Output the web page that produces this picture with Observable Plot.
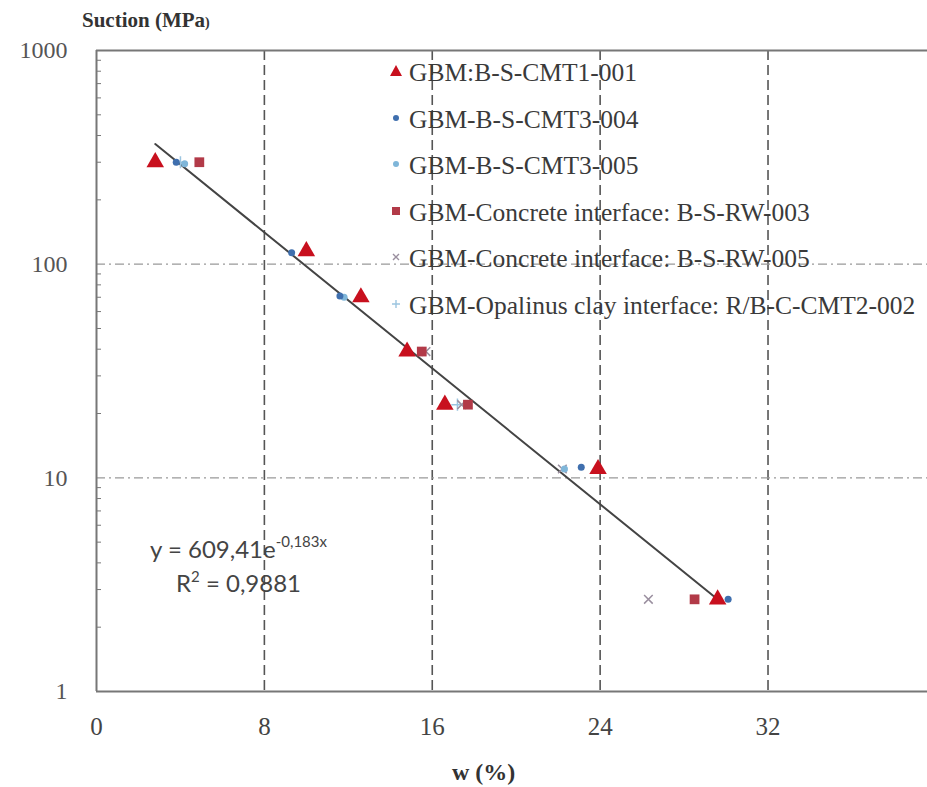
<!DOCTYPE html>
<html>
<head>
<meta charset="utf-8">
<script src="https://cdn.jsdelivr.net/npm/d3@7"></script>
<script src="https://cdn.jsdelivr.net/npm/@observablehq/plot@0.6"></script>
<style>
  body { margin: 0; background: #fff; }
  #wrap { position: relative; width: 927px; height: 787px; }
  .ov { position: absolute; white-space: nowrap; line-height: 1; }
</style>
</head>
<body>
<div id="wrap"></div>
<script>
// ---- data ----
const seriesNames = [
  "GBM:B-S-CMT1-001",
  "GBM-B-S-CMT3-004",
  "GBM-B-S-CMT3-005",
  "GBM-Concrete interface: B-S-RW-003",
  "GBM-Concrete interface: B-S-RW-005",
  "GBM-Opalinus clay interface: R/B-C-CMT2-002"
];
const cmt1_w = [2.8, 10.0, 12.6, 14.8, 16.6, 23.9, 29.6];
const cmt1_s = [300, 115, 70, 39, 22, 11, 2.7];
const cmt3a_w = [3.8, 9.3, 11.6, 23.1, 30.1];
const cmt3a_s = [300, 113, 71, 11.2, 2.7];
const cmt3b_w = [4.2, 11.8, 22.3];
const cmt3b_s = [295, 70, 11];
const rw3_w = [4.9, 15.5, 17.7, 28.5];
const rw3_s = [300, 39, 22, 2.7];
const rw5_w = [15.7, 17.4, 22.2, 26.3];
const rw5_s = [39, 22, 11, 2.7];
const opa_w = [4.0, 17.2];
const opa_s = [300, 22];
const trend_w = [2.8, 29.8];
const trend_s = [365, 2.6];
const xTicks = [0, 8, 16, 24, 32];
const yTicks = [1, 10, 100, 1000];
const vGrid = [8, 16, 24, 32];
const hGrid = [10, 100];
const minorY = [];
for (const d of [1, 10, 100]) for (let k = 2; k <= 9; k++) minorY.push(d * k);

const SERIF = '"Liberation Serif", "Times New Roman", "DejaVu Serif", serif';
const SANS = 'Lato, "Open Sans", "Liberation Sans", sans-serif';

const toRows = (ws, ss) => ws.map((w, i) => ({w, s: ss[i]}));

const chart = Plot.plot({
  width: 927,
  height: 787,
  marginLeft: 96,
  marginTop: 50,
  marginBottom: 96,
  marginRight: 0,
  style: {background: "transparent", fontFamily: SERIF},
  x: {domain: [0, 39.6], label: null},
  y: {type: "log", domain: [1, 1000], label: null},
  marks: [
    Plot.ruleX(vGrid, {stroke: "#555", strokeWidth: 1.6, strokeDasharray: "10,5"}),
    Plot.ruleY(hGrid, {stroke: "#999", strokeWidth: 1.4, strokeDasharray: "9,4,2,4"}),
    Plot.ruleX([0], {stroke: "#777", strokeWidth: 2}),
    Plot.ruleY([1, 1000], {stroke: "#777", strokeWidth: 2}),
    Plot.axisY({ticks: minorY, tickSize: -5, text: null, stroke: "#777", label: null}),
    Plot.axisY({ticks: yTicks, tickFormat: d => String(d), tickSize: 0, tickPadding: 29,
      fontSize: 24, fill: "#555", label: null}),
    Plot.axisX({ticks: xTicks, tickFormat: d => String(d), tickSize: 0, tickPadding: 26,
      fontSize: 25, fill: "#444", label: null}),
    Plot.line(toRows(trend_w, trend_s), {x: "w", y: "s", stroke: "#444", strokeWidth: 2}),
    Plot.dot(toRows(opa_w, opa_s), {x: "w", y: "s", symbol: "plus", r: 4, stroke: "#9cc5e0", strokeWidth: 1.5}),
    Plot.dot(toRows(rw5_w, rw5_s), {x: "w", y: "s", symbol: "times", r: 4, stroke: "#9a8f9f", strokeWidth: 1.5}),
    Plot.dot(toRows(cmt3b_w, cmt3b_s), {x: "w", y: "s", symbol: "circle", r: 3.5, fill: "#7fb6d9"}),
    Plot.dot(toRows(cmt3a_w, cmt3a_s), {x: "w", y: "s", symbol: "circle", r: 3.5, fill: "#3f6fae"}),
    Plot.dot(toRows(rw3_w, rw3_s), {x: "w", y: "s", symbol: "square", r: 5.5, fill: "#b23a48"}),
    Plot.dot(toRows(cmt1_w, cmt1_s), {x: "w", y: "s", symbol: "triangle", r: 6.5, fill: "#c8101e"})
  ]
});

const wrap = document.getElementById("wrap");
chart.style.position = "absolute";
chart.style.left = "0";
chart.style.top = "0";
wrap.appendChild(chart);

function ov(html, left, top, family, extra) {
  const d = document.createElement("div");
  d.className = "ov";
  d.style.left = left + "px";
  d.style.top = top + "px";
  if (family) d.style.fontFamily = family;
  d.innerHTML = html;
  Object.assign(d.style, extra || {});
  wrap.appendChild(d);
  return d;
}

ov("Suction (MPa<span style='font-size:14px'>)</span>", 82, 10, SERIF,
   {fontSize: "21px", fontWeight: "bold", color: "#333"});
ov("w (%)", 452, 760, SERIF, {fontSize: "24px", fontWeight: "bold", color: "#333"});
ov("y = 609,41e<span style='font-size:15px;position:relative;top:-11px'>-0,183x</span>", 150, 537, SANS,
   {fontSize: "24px", color: "#444"});
ov("R<span style='font-size:15px;position:relative;top:-10px'>2</span> = 0,9881", 176, 571, SANS,
   {fontSize: "24px", color: "#444"});

// legend
const legendSym = [
  "<polygon points='7,1 13,12 1,12' fill='#c8101e'/>",
  "<circle cx='7' cy='7' r='3' fill='#3f6fae'/>",
  "<circle cx='7' cy='7' r='3' fill='#7fb6d9'/>",
  "<rect x='3' y='3' width='8' height='8' fill='#b23a48'/>",
  "<path d='M4,4L10,10M10,4L4,10' stroke='#9a8f9f' stroke-width='1.4'/>",
  "<path d='M7,3V11M3,7H11' stroke='#9cc5e0' stroke-width='1.4'/>"
];
seriesNames.forEach((name, i) => {
  const top = 60 + i * 46.6;
  ov("<svg width='14' height='14'>" + legendSym[i] + "</svg>", 389, top + 4, null, {});
  ov(name, 409, top, SERIF, {fontSize: "25.5px", color: "#3a3a3a"});
});
</script>
</body>
</html>
